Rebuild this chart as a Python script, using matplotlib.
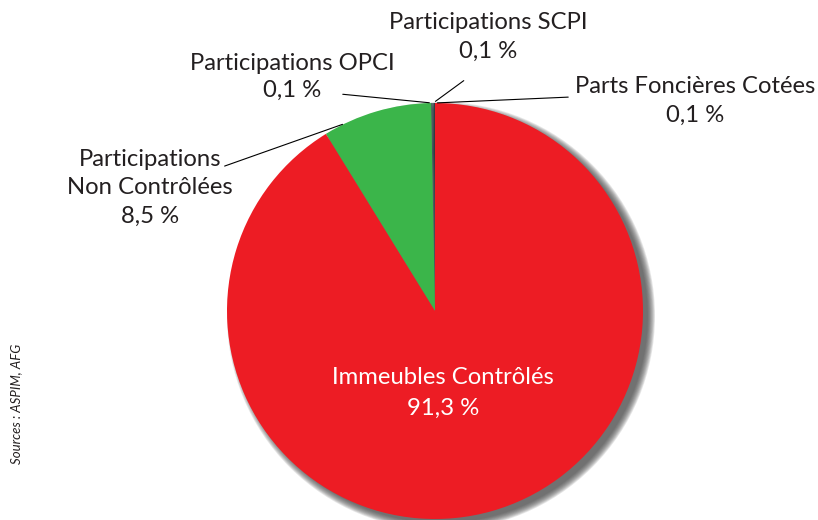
import numpy as np
import matplotlib
matplotlib.use("Agg")
import matplotlib.pyplot as plt
from matplotlib.patches import Circle

# Data
labels = ["Parts Foncières Cotées", "Participations SCPI", "Participations OPCI",
          "Participations\nNon Contrôlées", "Immeubles Contrôlés"]
values = [0.1, 0.1, 0.1, 8.5, 91.3]
pct_text = ["0,1 %", "0,1 %", "0,1 %", "8,5 %", "91,3 %"]
colors = ["#2f3d42", "#3a4a50", "#45565c", "#3bb54a", "#ed1c24"]

plt.rcParams['font.family'] = ['Lato', 'DejaVu Sans']

fig = plt.figure(figsize=(8.18, 5.2), dpi=100)
ax = fig.add_axes([0, 0, 1, 1])

cx, cy, r = 435, 520 - 311, 208

# soft drop shadow
for i in range(10):
    ax.add_patch(Circle((cx + 6, cy - 5), r + 6 - i * 0.8, color='#444444',
                        alpha=0.13, lw=0, zorder=1))

wedges, _ = ax.pie(values, colors=colors, startangle=90, counterclock=True,
                   center=(cx, cy), radius=r, frame=True,
                   wedgeprops=dict(linewidth=0, zorder=2))
ax.set_xlim(0, 818)
ax.set_ylim(0, 520)
ax.set_aspect('equal')
ax.axis('off')

def edge(angle_deg):
    a = np.radians(angle_deg)
    return (cx + r * np.cos(a), cy + r * np.sin(a))

txt = dict(ha='center', va='center', color='#231f20', fontsize=17.2, linespacing=1.42)
line = dict(arrowstyle='-', color='black', lw=0.8)

# small slices, leader lines from the top of the pie
ax.text(695, 520 - 101, labels[0] + "\n" + pct_text[0], **txt)
ax.annotate("", xy=edge(90.1), xytext=(571, 520 - 97), arrowprops=line)

ax.text(488, 520 - 37, labels[1] + "\n" + pct_text[1], **txt)
ax.annotate("", xy=edge(90.5), xytext=(466, 520 - 79), arrowprops=line)

ax.text(292, 520 - 77, labels[2] + "\n" + pct_text[2], **{**txt, 'linespacing': 1.32})
ax.annotate("", xy=edge(90.8), xytext=(340, 520 - 94), arrowprops=line)

ax.text(150, 520 - 188, labels[3] + "\n" + pct_text[3], **txt)
ax.annotate("", xy=edge(115.6), xytext=(222, 520 - 167), arrowprops=line)

ax.text(443, 520 - 393, labels[4] + "\n" + pct_text[4],
        **{**txt, 'color': 'white', 'linespacing': 1.58})

ax.text(16, 520 - 404, "Sources : ASPIM, AFG", rotation=90, ha='center', va='center',
        fontsize=9.5, style='italic', color='#231f20')

fig.savefig("out.png", dpi=100)
